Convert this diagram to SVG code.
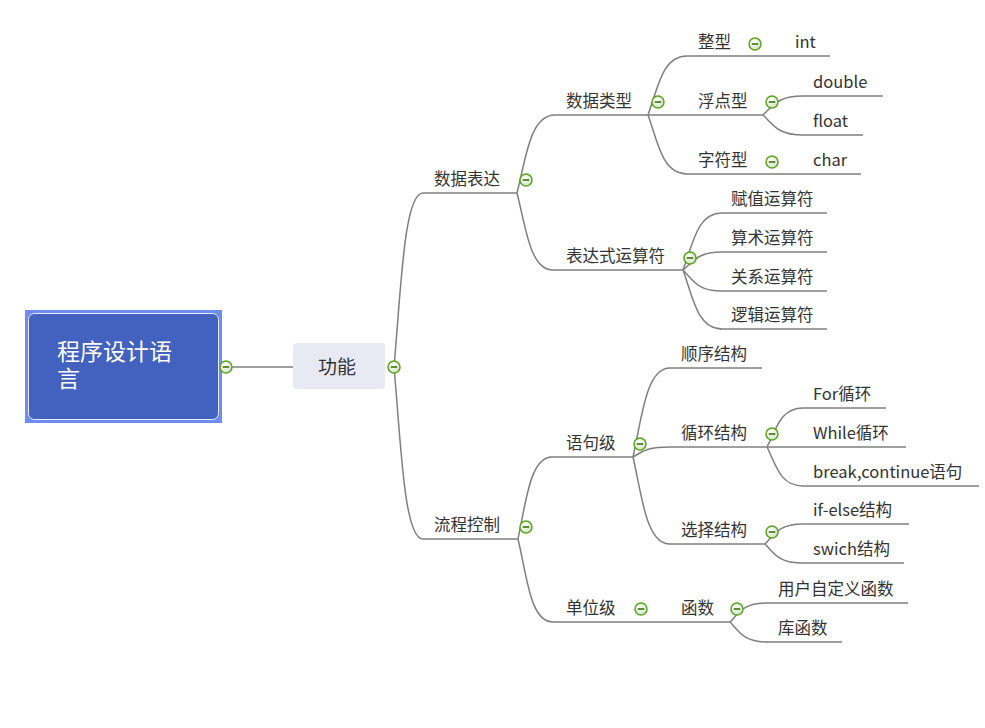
<svg xmlns="http://www.w3.org/2000/svg" width="985" height="728" viewBox="0 0 985 728">
<defs>
<radialGradient id="ig" cx="0.4" cy="0.35" r="0.7">
<stop offset="0" stop-color="#ffffff"/>
<stop offset="1" stop-color="#cfe3bf"/>
</radialGradient>
<g id="icon">
<circle cx="0" cy="0" r="6" fill="url(#ig)" stroke="#5ca41f" stroke-width="1.5"/>
<line x1="-3.2" y1="0" x2="3.2" y2="0" stroke="#3d6f12" stroke-width="1.6"/>
</g>
</defs>
<style>
.t{font-family:"Noto Sans CJK SC","Microsoft YaHei",sans-serif;font-size:16.5px;fill:#333333}
.u{stroke:#7f7f7f;stroke-width:1.5;fill:none}
.c path,.c line{stroke:#7f7f7f;stroke-width:1.5;fill:none}
.rt{font-family:"Noto Sans CJK SC",sans-serif;font-size:23px;fill:#ffffff}
</style>
<rect width="985" height="728" fill="#ffffff"/>

<g class="c" id="connectors">
<line x1="232" y1="367" x2="293" y2="367"/>
<path d="M394,367 C401,289 404,193 423,193"/>
<path d="M394,367 C401,444 404,539 423,539"/>
<path d="M517,193 C526,158 530,115 555,115"/>
<path d="M517,193 C526,228 530,270 553,270"/>
<path d="M648,115 C658,88 662,56 687,56"/>
<line x1="648" y1="115" x2="687" y2="115"/>
<path d="M648,115 C658,142 662,174 687,174"/>
<line x1="745" y1="56" x2="785" y2="56"/>
<path d="M763,115 C773,106 777,96 803,96"/>
<path d="M763,115 C773,124 777,135 803,135"/>
<line x1="763" y1="174" x2="803" y2="174"/>
<path d="M683,270 C693,244 697,213 722,213"/>
<path d="M683,270 C693,262 697,252 722,252"/>
<path d="M683,270 C693,280 697,291 722,291"/>
<path d="M683,270 C693,297 697,329 722,329"/>
<path d="M518,539 C526,502 530,457 552,457"/>
<path d="M518,539 C527,576 530,622 553,622"/>
<path d="M633,457 C642,417 646,368 670,368"/>
<path d="M633,457 C642,452 646,447 670,447"/>
<path d="M633,457 C642,496 646,544 670,544"/>
<path d="M767,447 C776,430 780,408 803,408"/>
<line x1="767" y1="447" x2="803" y2="447"/>
<path d="M767,447 C776,465 780,486 803,486"/>
<path d="M765,544 C774,535 778,524 803,524"/>
<path d="M765,544 C774,553 778,563 803,563"/>
<line x1="630" y1="622" x2="670" y2="622"/>
<path d="M730,622 C739,613 743,603 767,603"/>
<path d="M730,622 C739,631 743,642 767,642"/>
</g>

<g id="root">
<rect x="25" y="310" width="197" height="113" fill="#6e8cf1"/>
<rect x="28.5" y="313.5" width="190" height="106" rx="6" fill="#4361bf" stroke="#e8ecfb" stroke-width="1"/>
<text class="rt" x="57" y="360">程序设计语</text>
<text class="rt" x="57" y="387">言</text>
<use href="#icon" x="226" y="367"/>
</g>

<g id="n-gongneng">
<rect x="293" y="343" width="92" height="46" rx="4" fill="#e8e9f2"/>
<text class="t" x="337" y="374" text-anchor="middle" style="font-size:19px">功能</text>
<use href="#icon" x="394" y="367"/>
</g>

<g id="n-shujubiaoda">
<line class="u" x1="423" y1="193" x2="517" y2="193"/>
<text class="t" x="434" y="185">数据表达</text>
<use href="#icon" x="526" y="180"/>
</g>
<g id="n-liuchengkongzhi">
<line class="u" x1="423" y1="539" x2="518" y2="539"/>
<text class="t" x="434" y="531">流程控制</text>
<use href="#icon" x="526" y="527"/>
</g>

<g id="n-shujuleixing">
<line class="u" x1="555" y1="115" x2="648" y2="115"/>
<text class="t" x="566" y="107">数据类型</text>
<use href="#icon" x="658" y="102"/>
</g>
<g id="n-biaodashi">
<line class="u" x1="553" y1="270" x2="683" y2="270"/>
<text class="t" x="566" y="262">表达式运算符</text>
<use href="#icon" x="690" y="258"/>
</g>

<g id="n-zhengxing">
<line class="u" x1="687" y1="56" x2="745" y2="56"/>
<text class="t" x="698" y="48">整型</text>
<use href="#icon" x="755" y="44"/>
</g>
<g id="n-int">
<line class="u" x1="785" y1="56" x2="830" y2="56"/>
<text class="t" x="795" y="48">int</text>
</g>
<g id="n-fudianxing">
<line class="u" x1="687" y1="115" x2="763" y2="115"/>
<text class="t" x="698" y="107">浮点型</text>
<use href="#icon" x="772" y="102"/>
</g>
<g id="n-double">
<line class="u" x1="803" y1="96" x2="883" y2="96"/>
<text class="t" x="813" y="88">double</text>
</g>
<g id="n-float">
<line class="u" x1="803" y1="135" x2="863" y2="135"/>
<text class="t" x="813" y="127">float</text>
</g>
<g id="n-zifuxing">
<line class="u" x1="687" y1="174" x2="763" y2="174"/>
<text class="t" x="698" y="166">字符型</text>
<use href="#icon" x="772" y="162"/>
</g>
<g id="n-char">
<line class="u" x1="803" y1="174" x2="861" y2="174"/>
<text class="t" x="813" y="166">char</text>
</g>

<g id="n-fuzhi">
<line class="u" x1="722" y1="213" x2="827" y2="213"/>
<text class="t" x="731" y="205">赋值运算符</text>
</g>
<g id="n-suanshu">
<line class="u" x1="722" y1="252" x2="827" y2="252"/>
<text class="t" x="731" y="244">算术运算符</text>
</g>
<g id="n-guanxi">
<line class="u" x1="722" y1="291" x2="827" y2="291"/>
<text class="t" x="731" y="283">关系运算符</text>
</g>
<g id="n-luoji">
<line class="u" x1="722" y1="329" x2="827" y2="329"/>
<text class="t" x="731" y="321">逻辑运算符</text>
</g>

<g id="n-yujuji">
<line class="u" x1="552" y1="457" x2="633" y2="457"/>
<text class="t" x="566" y="449">语句级</text>
<use href="#icon" x="640" y="444"/>
</g>
<g id="n-danweiji">
<line class="u" x1="553" y1="622" x2="630" y2="622"/>
<text class="t" x="566" y="614">单位级</text>
<use href="#icon" x="641" y="609"/>
</g>
<g id="n-hanshu">
<line class="u" x1="670" y1="622" x2="730" y2="622"/>
<text class="t" x="681" y="614">函数</text>
<use href="#icon" x="737" y="609"/>
</g>
<g id="n-shunxu">
<line class="u" x1="670" y1="368" x2="762" y2="368"/>
<text class="t" x="681" y="360">顺序结构</text>
</g>
<g id="n-xunhuan">
<line class="u" x1="670" y1="447" x2="767" y2="447"/>
<text class="t" x="681" y="439">循环结构</text>
<use href="#icon" x="772" y="434"/>
</g>
<g id="n-xuanze">
<line class="u" x1="670" y1="544" x2="765" y2="544"/>
<text class="t" x="681" y="536">选择结构</text>
<use href="#icon" x="772" y="532"/>
</g>
<g id="n-for">
<line class="u" x1="803" y1="408" x2="886" y2="408"/>
<text class="t" x="813" y="400">For循环</text>
</g>
<g id="n-while">
<line class="u" x1="803" y1="447" x2="906" y2="447"/>
<text class="t" x="813" y="439">While循环</text>
</g>
<g id="n-break">
<line class="u" x1="803" y1="486" x2="979" y2="486"/>
<text class="t" x="813" y="478">break,continue语句</text>
</g>
<g id="n-ifelse">
<line class="u" x1="803" y1="524" x2="909" y2="524"/>
<text class="t" x="813" y="516">if-else结构</text>
</g>
<g id="n-swich">
<line class="u" x1="803" y1="563" x2="904" y2="563"/>
<text class="t" x="813" y="555">swich结构</text>
</g>
<g id="n-zidingyi">
<line class="u" x1="767" y1="603" x2="908" y2="603"/>
<text class="t" x="778" y="595">用户自定义函数</text>
</g>
<g id="n-kuhanshu">
<line class="u" x1="767" y1="642" x2="842" y2="642"/>
<text class="t" x="778" y="634">库函数</text>
</g>
</svg>
